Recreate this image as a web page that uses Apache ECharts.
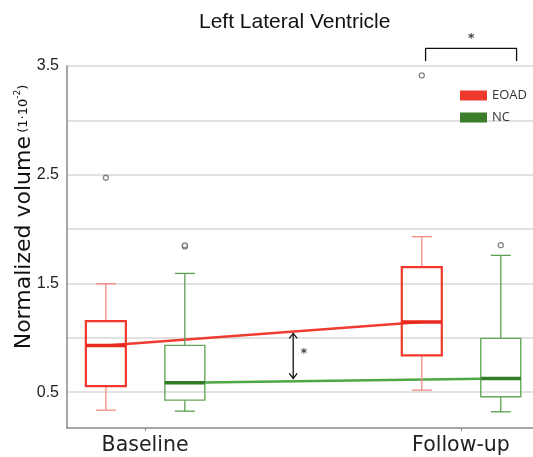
<!DOCTYPE html>
<html>
<head>
<meta charset="UTF-8">
<title>Left Lateral Ventricle</title>
<style>
  html, body { margin: 0; padding: 0; background: #fff; }
  #main { width: 533px; height: 457px; }
</style>
</head>
<body>
<div id="main"></div>
<script src="https://cdn.jsdelivr.net/npm/echarts@6/dist/echarts.min.js"></script>
<script>
// categories on the x axis (value 0 and 1)
var categories = ['Baseline', 'Follow-up'];
var groups = ['EOAD', 'NC'];

// box values per category: [low whisker, q1, median, q3, high whisker]
var eoadBoxes = [
    [0.334, 0.555, 0.93, 1.153, 1.497],
    [0.518, 0.838, 1.144, 1.65, 1.93]
];
var ncBoxes = [
    [0.325, 0.426, 0.587, 0.93, 1.592],
    [0.319, 0.458, 0.626, 0.994, 1.758]
];

// outliers: [category index, value]
var eoadOutliers = [[0, 2.472], [1, 3.413]];
var ncOutliers = [[0, 1.84], [0, 1.85], [1, 1.852]];

// y tick labels and grid lines
var yTicks = [0.5, 1.5, 2.5, 3.5];
var yGridLines = [0.5, 1.0, 1.5, 2.0, 2.5, 3.0, 3.5];

// significance marks
var bracketFollowUp = [[0.888, 3.546], [0.888, 3.663], [1.176, 3.663], [1.176, 3.546]];
var arrowBetween = [[0.469, 1.04], [0.469, 0.626]];
var stars = [[1.032, 3.755], [0.503, 0.856]];

var offset = { EOAD: -0.124, NC: 0.126 };

var look = {
    EOAD: { box: '#f0392c', boxW: 2.2, whisker: '#f58b85', median: '#e8291d', trend: '#ee3c30', legend: '#ee3a2e' },
    NC:   { box: '#66a85a', boxW: 1.4, whisker: '#5c9e51', median: '#2f7c24', trend: '#4ea846', legend: '#3b7d2b' }
};

function boxData(boxes, g) {
    return boxes.map(function (b, i) {
        return [i + offset[g]].concat(b);
    });
}

function renderBox(g) {
    return function (params, api) {
        var x = api.value(0);
        var lo = api.coord([x, api.value(1)]);
        var q1 = api.coord([x, api.value(2)]);
        var med = api.coord([x, api.value(3)]);
        var q3 = api.coord([x, api.value(4)]);
        var hi = api.coord([x, api.value(5)]);
        var cx = lo[0], hw = 20, cw = 10;
        var s = look[g];
        var wStyle = { stroke: s.whisker, lineWidth: 1.3 };
        return {
            type: 'group',
            children: [
                { type: 'line', shape: { x1: cx, y1: hi[1], x2: cx, y2: q3[1] }, style: wStyle },
                { type: 'line', shape: { x1: cx - cw, y1: hi[1], x2: cx + cw, y2: hi[1] }, style: wStyle },
                { type: 'line', shape: { x1: cx, y1: q1[1], x2: cx, y2: lo[1] }, style: wStyle },
                { type: 'line', shape: { x1: cx - cw, y1: lo[1], x2: cx + cw, y2: lo[1] }, style: wStyle },
                { type: 'rect', shape: { x: cx - hw, y: q3[1], width: hw * 2, height: q1[1] - q3[1] },
                  style: { fill: 'none', stroke: s.box, lineWidth: s.boxW } },
                { type: 'line', shape: { x1: cx - hw, y1: med[1], x2: cx + hw, y2: med[1] },
                  style: { stroke: s.median, lineWidth: 3.5 } }
            ]
        };
    };
}

function renderArrow(params, api) {
    var a = api.coord(arrowBetween[0]);
    var b = api.coord(arrowBetween[1]);
    var st = { stroke: '#111', lineWidth: 1.3, fill: 'none' };
    return {
        type: 'group',
        children: [
            { type: 'line', shape: { x1: a[0], y1: a[1], x2: b[0], y2: b[1] }, style: st },
            { type: 'polyline', shape: { points: [[a[0] - 4, a[1] + 5], [a[0], a[1]], [a[0] + 4, a[1] + 5]] }, style: st },
            { type: 'polyline', shape: { points: [[b[0] - 4, b[1] - 5], [b[0], b[1]], [b[0] + 4, b[1] - 5]] }, style: st }
        ]
    };
}

var chart = echarts.init(document.getElementById('main'));

var option = {
    backgroundColor: '#fff',
    animation: false,
    title: {
        text: 'Left Lateral Ventricle',
        left: 194,
        top: 7,
        textStyle: { fontFamily: 'Liberation Sans', fontSize: 21, fontWeight: 'normal', color: '#111' }
    },
    legend: {
        data: groups,
        orient: 'vertical',
        left: 455,
        top: 84,
        itemWidth: 27,
        itemHeight: 10,
        itemGap: 9,
        icon: 'rect',
        textStyle: { fontFamily: 'Open Sans', fontSize: 13, color: '#333' }
    },
    grid: { left: 67, right: 0, top: 66, bottom: 29, outerBoundsMode: 'none' },
    xAxis: {
        type: 'value',
        min: -0.247,
        max: 1.228,
        splitLine: { show: false },
        axisLine: { show: true, onZero: false, lineStyle: { color: '#8a8a8a', width: 1.5 } },
        axisTick: { show: true, customValues: [0, 1], length: 3, lineStyle: { color: '#8a8a8a' } },
        axisLabel: {
            customValues: [0, 1],
            margin: 7,
            fontFamily: 'DejaVu Sans',
            fontSize: 20.5,
            color: '#222',
            formatter: function (v) { return categories[Math.round(v)]; }
        }
    },
    yAxis: {
        type: 'value',
        min: 0.17,
        max: 3.5,
        name: '{big|Normalized volume} {small|(1·10}{sup|-2}{small|)}',
        nameLocation: 'middle',
        nameGap: 32,
        nameRotate: 90,
        nameMoveOverlap: false,
        nameTextStyle: {
            padding: [0, 0, 0, 60],
            rich: {
                big: { fontFamily: 'DejaVu Sans', fontSize: 22, color: '#111' },
                small: { fontFamily: 'DejaVu Sans', fontSize: 13, color: '#111' },
                sup: { fontFamily: 'DejaVu Sans', fontSize: 9, color: '#111', verticalAlign: 'top', padding: [0, 0, 9, 0] }
            }
        },
        axisLine: { show: true, onZero: false, lineStyle: { color: '#8a8a8a', width: 1.5 } },
        axisTick: { show: false, customValues: yGridLines },
        splitLine: { show: true, lineStyle: { color: '#d9d9d9', width: 1.5 } },
        axisLabel: {
            customValues: yTicks,
            margin: 8,
            fontFamily: 'Liberation Sans',
            fontSize: 16,
            color: '#222',
            formatter: function (v) { return v.toFixed(1); }
        }
    },
    series: [
        {
            name: 'EOAD',
            type: 'custom',
            renderItem: renderBox('EOAD'),
            itemStyle: { color: look.EOAD.legend },
            data: boxData(eoadBoxes, 'EOAD'),
            z: 3
        },
        {
            name: 'NC',
            type: 'custom',
            renderItem: renderBox('NC'),
            itemStyle: { color: look.NC.legend },
            data: boxData(ncBoxes, 'NC'),
            z: 3
        },
        {
            type: 'line',
            symbol: 'none',
            lineStyle: { color: look.EOAD.trend, width: 2.5 },
            data: eoadBoxes.map(function (b, i) { return [i + offset.EOAD, b[2]]; }),
            z: 2
        },
        {
            type: 'line',
            symbol: 'none',
            lineStyle: { color: look.NC.trend, width: 2.5 },
            data: ncBoxes.map(function (b, i) { return [i + offset.NC, b[2]]; }),
            z: 2
        },
        {
            type: 'scatter',
            symbol: 'circle',
            symbolSize: 5,
            itemStyle: { color: '#fff', borderColor: '#666', borderWidth: 1.3 },
            data: eoadOutliers.map(function (o) { return [o[0] + offset.EOAD, o[1]]; }),
            z: 4
        },
        {
            type: 'scatter',
            symbol: 'circle',
            symbolSize: 5,
            itemStyle: { color: '#fff', borderColor: '#666', borderWidth: 1.3 },
            data: ncOutliers.map(function (o) { return [o[0] + offset.NC, o[1]]; }),
            z: 4
        },
        {
            type: 'line',
            symbol: 'none',
            clip: false,
            lineStyle: { color: '#111', width: 1.3 },
            data: bracketFollowUp,
            z: 5
        },
        {
            type: 'custom',
            renderItem: renderArrow,
            clip: false,
            data: [0],
            z: 5
        },
        {
            type: 'scatter',
            symbolSize: 0,
            clip: false,
            label: {
                show: true,
                position: 'inside',
                formatter: '*',
                fontFamily: 'DejaVu Sans',
                fontSize: 13,
                fontWeight: 'bold',
                color: '#111'
            },
            data: stars,
            z: 5
        }
    ]
};

chart.setOption(option);
</script>
</body>
</html>
